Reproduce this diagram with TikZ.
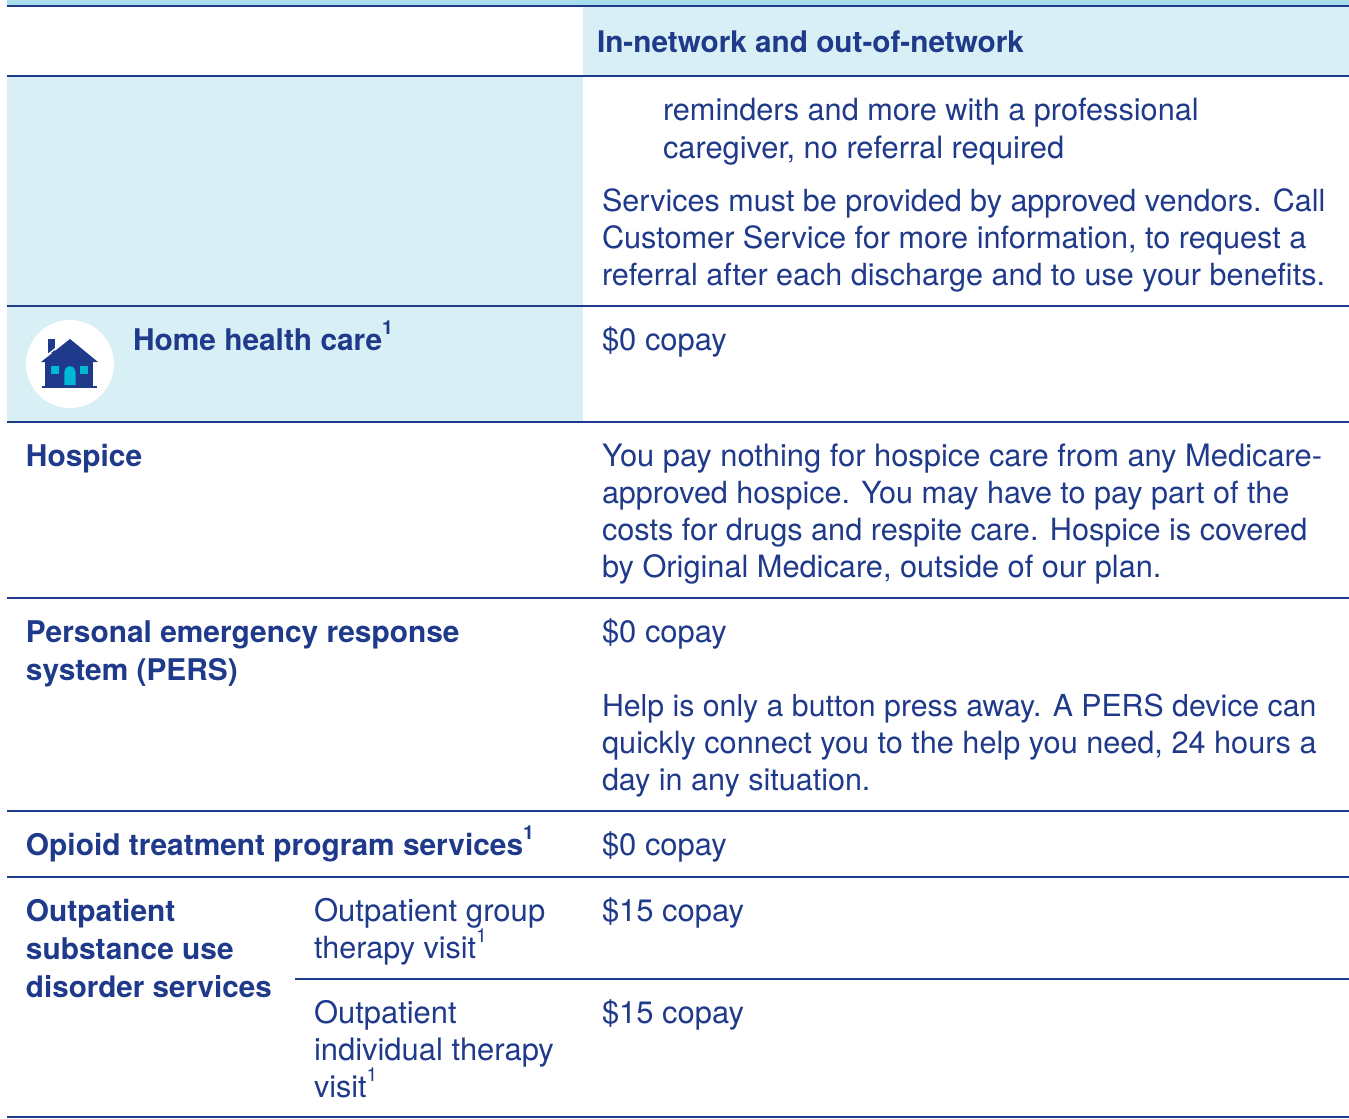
\documentclass[tikz,border=0pt]{standalone}
\usepackage{fontspec}
\setmainfont{TeX Gyre Heros}
\definecolor{navy}{HTML}{1F3A8A}
\definecolor{pale}{HTML}{D7EFF5}
\definecolor{topb}{HTML}{A8DDEC}
\definecolor{teal}{HTML}{00B8D4}
\newcommand{\supone}{\raisebox{0.52em}{\fontsize{14.5}{14.5}\selectfont 1}}
\tikzset{
 x=0.75pt,y=-0.75pt,
 body/.style={anchor=base west,inner sep=0pt,outer sep=0pt,text=navy,font=\fontsize{22.9}{27.8}\selectfont},
 bold/.style={body,font=\fontsize{22.4}{27.8}\selectfont\bfseries},
 fs/.style={font=\fontsize{#1}{27.8}\selectfont},
 bfs/.style={font=\fontsize{#1}{27.8}\selectfont\bfseries},
 rule/.style={draw=navy,line width=0.9pt},
}
\begin{document}
\begin{tikzpicture}
\useasboundingbox (0,0) rectangle (1349,1118);
\fill[white] (0,0) rectangle (1349,1118);
\fill[pale] (583,6) rectangle (1349,76);
\fill[pale] (7,76) rectangle (583,422);
\fill[topb] (7,0) rectangle (1349,5);
\draw[rule] (7,6) -- (1349,6);
\foreach \y in {76,306,422,598,811,877,1117} \draw[rule] (7,\y) -- (1349,\y);
\draw[rule] (295,979) -- (1349,979);
\fill[white] (70,364) circle (44);
\fill[navy] (48,339) rectangle (55,353);
\draw[white,line width=1pt] (46,356) -- (70,337);
\fill[navy] (41,362) -- (70,339) -- (98,362) -- cycle;
\fill[navy] (45,361) rectangle (93,386);
\fill[navy] (42,386) rectangle (97,388);
\fill[teal] (51,366) rectangle (59,374);
\fill[teal] (80,366) rectangle (88,374);
\fill[teal] (64.3,385) -- (64.3,371.6) arc (180:360:5.6) -- (75.5,385) -- cycle;
\node[bold,bfs=22.3] (h0) at (597,52) {In-network and out-of-network};
\node[body,fs=23] (t1) at (663,120) {reminders and more with a professional};
\node[body,fs=23.1] (t2) at (663,158) {caregiver, no referral required};
\node[body] (t3) at (602,211) {Services must be provided by approved vendors. Call};
\node[body,fs=23] (t4) at (602,248) {Customer Service for more information, to request a};
\node[body] (t5) at (602,285) {referral after each discharge and to use your benefits.};
\node[bold] (a1) at (133,350) {Home health care\supone};
\node[body,fs=23.2] (c1) at (602,350) {\$0 copay};
\node[bold] (a2) at (26,466) {Hospice};
\node[body,fs=23.15] (t6) at (602,466) {You pay nothing for hospice care from any Medicare-};
\node[body] (t7) at (602,503) {approved hospice. You may have to pay part of the};
\node[body,fs=23] (t8) at (602,540) {costs for drugs and respite care. Hospice is covered};
\node[body,fs=23.05] (t9) at (602,577) {by Original Medicare, outside of our plan.};
\node[bold] (a3) at (26,642) {Personal emergency response};
\node[bold] (a4) at (26,680) {system (PERS)};
\node[body,fs=23.2] (c2) at (602,642) {\$0 copay};
\node[body,fs=22.7] (t10) at (602,716) {Help is only a button press away. A PERS device can};
\node[body,fs=23] (t11) at (602,753) {quickly connect you to the help you need, 24 hours a};
\node[body] (t12) at (602,790) {day in any situation.};
\node[bold] (a5) at (26,855) {Opioid treatment program services\supone};
\node[body,fs=23.2] (c3) at (602,855) {\$0 copay};
\node[bold] (a6) at (26,921) {Outpatient};
\node[bold] (a7) at (26,959) {substance use};
\node[bold,bfs=22.2] (a8) at (26,997) {disorder services};
\node[body,fs=23.3] (b1) at (314,921) {Outpatient group};
\node[body] (b2) at (314,958) {therapy visit\supone};
\node[body,fs=23.2] (c4) at (602,921) {\$15 copay};
\node[body,fs=23.2] (b3) at (314,1023) {Outpatient};
\node[body,fs=23.2] (b4) at (314,1060) {individual therapy};
\node[body] (b5) at (314,1097) {visit\supone};
\node[body,fs=23.2] (c5) at (602,1023) {\$15 copay};
\end{tikzpicture}
\end{document}
